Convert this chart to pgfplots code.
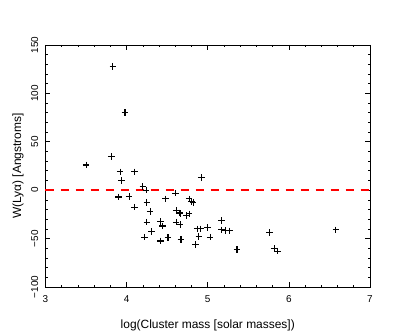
\documentclass[border=0pt]{standalone}
\usepackage{fontspec}
\setmainfont{Liberation Sans}
\usepackage{pgfplots}
\pgfplotsset{compat=1.18}
\begin{document}
\begin{tikzpicture}[x=1bp,y=1bp]
\path[use as bounding box, fill=white] (0,0) rectangle (415,332);
\begin{axis}[
  at={(45.5bp,45bp)}, anchor=south west,
  scale only axis, width=324.5bp, height=242bp,
  xmin=3, xmax=7, ymin=-100, ymax=150,
  xtick={3,4,5,6,7}, minor x tick num=4,
  ytick={-100,-50,0,50,100,150},
  yticklabels={−100,−50,0,50,100,150},
  minor y tick num=4,
  tick align=inside, major tick length=5bp, minor tick length=2.5bp,
  tick style={black, line width=0.7bp},
  axis line style={line width=0.8bp},
  xticklabel style={font=\fontsize{10}{11}\selectfont, inner sep=0pt, anchor=north},
  xticklabel shift=8bp,
  yticklabel style={font=\fontsize{10}{11}\selectfont, inner sep=0pt, rotate=90, anchor=south},
  yticklabel shift=7bp,
  /pgf/number format/assume math mode=true,
  xlabel={log(Cluster mass [solar masses])},
  ylabel={W(Lyα) [Angstroms]},
  label style={font=\fontsize{12}{13}\selectfont},
  xlabel style={at={(axis description cs:0.5,-0.16)}, anchor=center},
  ylabel style={at={(axis description cs:-0.085,0.5)}, anchor=center},
  clip=false,
]
\addplot[red, line width=1.6bp, dash pattern=on 8.5bp off 6.5bp] coordinates {(3,0) (7,0)};
\addplot[only marks, mark=+, mark size=3.3bp, mark options={line width=1.1bp, black}] table {
x y
3.50 26
3.81 35
3.83 128
3.98 80
3.92 19
3.94 10
4.10 19
4.20 4
4.24 0
3.90 -7
4.03 -6.5
4.10 -17.5
4.25 -12.5
4.29 -22
4.25 -33
4.31 -42.5
4.22 -48.5
4.42 -32.5
4.44 -37
4.42 -52.5
4.51 -49
4.48 -9
4.60 -3
4.61 -21
4.65 -23.5
4.66 -24
4.74 -26
4.77 -24.5
4.61 -33
4.66 -35.5
4.67 -51
4.77 -9
4.80 -11.5
4.82 -13
4.92 13
4.87 -40
4.91 -40
5.00 -38.5
4.89 -48
5.03 -48.5
4.85 -56
5.17 -31.5
5.17 -41
5.22 -41.5
5.27 -42
5.36 -61.5
5.76 -44
5.82 -60.5
5.86 -63
6.58 -41
};
\end{axis}
\end{tikzpicture}
\end{document}
